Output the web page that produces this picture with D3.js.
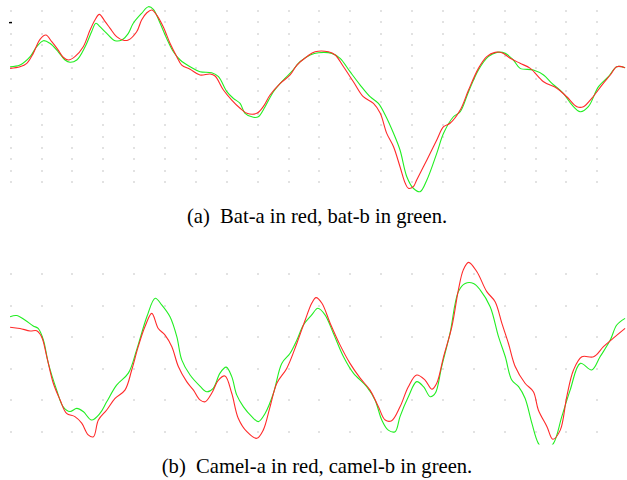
<!DOCTYPE html>
<html>
<head>
<meta charset="utf-8">
<script src="https://cdn.jsdelivr.net/npm/d3@7"></script>
<style>
  html, body { margin: 0; padding: 0; background: #fff; }
  svg { display: block; }
  text { white-space: pre; }
</style>
</head>
<body>
<svg id="chart" width="627" height="480"></svg>
<script>
// ---------- data (frame index, amplitude) ----------
const gridCols = d3.range(0, 200, 10);          // frame ticks 0..190
const topRows = d3.range(0, 16);                  // amplitude ticks 0..15
const bottomRows = d3.range(0, 6);                // amplitude ticks 0..5

const captionA = "(a)  Bat-a in red, bat-b in green.";
const captionB = "(b)  Camel-a in red, camel-b in green.";

const batA = [
  [-0.2,9.96],[3.0,10.10],[5.2,10.40],[7.3,11.27],[9.5,12.50],[11.4,12.87],[13.3,12.29],[15.4,11.56],
  [17.0,10.93],[18.7,10.69],[20.8,10.98],[23.5,11.85],[25.7,13.31],[27.3,14.19],[28.7,14.68],[30.6,14.04],
  [32.2,13.46],[34.3,12.73],[36.5,12.41],[38.1,12.44],[40.8,13.16],[42.4,14.19],[44.1,14.82],[45.7,15.06],
  [47.3,14.62],[49.4,13.60],[51.6,12.15],[53.8,10.98],[55.4,10.25],[58.1,9.88],[61.3,9.38],[64.6,9.47],
  [66.2,9.29],[68.9,8.07],[71.6,7.19],[74.3,6.47],[76.5,6.03],[79.7,6.03],[81.8,6.61],[84.0,7.63],
  [87.3,8.65],[90.5,9.38],[92.7,10.25],[95.9,10.98],[98.6,11.41],[102.9,11.41],[105.1,11.13],[107.8,10.10],
  [111.0,8.79],[114.2,7.48],[117.5,6.90],[119.7,6.03],[121.8,4.28],[124.0,3.11],[126.1,1.36],[127.8,-0.09],
  [128.8,-0.52],[130.4,-0.38],[131.5,0.20],[134.8,1.95],[138.0,3.70],[140.2,4.86],[142.3,5.16],[145.6,6.32],
  [148.3,8.07],[151.5,9.96],[154.2,10.98],[156.9,11.36],[159.1,11.33],[161.8,10.84],[165.0,10.40],[168.3,9.96],
  [172.6,8.79],[176.9,8.22],[180.1,7.48],[183.4,6.61],[185.5,6.61],[188.2,7.34],[191.5,8.50],[194.2,9.38],
  [196.3,10.10],[199.0,10.02]
];
const batB = [
  [-0.2,10.10],[3.0,10.25],[6.3,10.98],[8.4,11.85],[10.6,12.38],[12.7,12.15],[15.4,11.41],[17.6,10.69],
  [19.2,10.49],[21.4,10.69],[24.1,11.85],[26.2,13.16],[27.6,13.90],[28.9,13.60],[31.1,13.02],[33.8,12.38],
  [36.0,12.44],[38.1,13.02],[39.7,13.90],[42.4,14.77],[44.6,15.35],[46.2,15.12],[48.4,13.90],[50.5,12.59],
  [52.7,11.41],[54.9,10.69],[58.1,10.10],[61.3,9.67],[65.1,9.58],[67.3,9.23],[70.0,7.92],[72.1,7.34],
  [74.3,6.90],[75.9,6.03],[78.6,5.68],[80.2,5.73],[82.4,6.61],[85.1,7.92],[88.3,8.94],[91.0,9.67],
  [93.7,10.54],[97.0,11.13],[99.7,11.33],[104.0,11.27],[106.7,10.84],[109.9,9.67],[113.2,8.50],[116.4,7.48],
  [119.1,6.90],[121.3,5.88],[124.0,4.28],[126.1,2.82],[128.3,0.49],[130.4,-0.52],[132.6,-0.82],[134.8,0.20],
  [138.0,2.53],[140.2,4.28],[143.4,5.73],[145.6,6.17],[148.3,7.92],[151.5,9.82],[154.7,10.98],[157.5,11.36],
  [160.2,11.27],[162.8,10.69],[165.0,9.96],[169.3,9.82],[172.6,9.38],[175.3,8.65],[179.0,7.78],[181.8,6.76],
  [184.5,6.17],[187.1,6.61],[190.4,8.36],[193.6,9.23],[196.3,10.10],[199.0,10.02]
];
const camelA = [
  [-0.2,3.32],[3.0,3.28],[6.3,3.20],[8.4,3.21],[10.0,3.02],[11.7,2.38],[13.8,1.54],[16.0,1.01],
  [18.1,0.58],[20.8,0.48],[23.0,0.27],[25.1,-0.10],[26.8,-0.16],[28.4,0.37],[31.1,0.69],[33.8,1.06],
  [37.0,1.32],[39.2,1.96],[41.3,2.70],[43.5,3.34],[45.7,3.76],[47.8,3.28],[50.0,3.07],[52.2,2.70],
  [54.3,2.07],[57.0,1.59],[59.2,1.32],[61.3,1.01],[63.0,0.95],[65.1,1.22],[67.3,1.64],[69.4,1.77],
  [71.6,1.22],[73.7,0.43],[76.5,0.00],[79.7,-0.21],[81.8,0.05],[84.0,0.79],[86.2,1.54],[89.4,2.01],
  [92.7,2.81],[95.4,3.55],[97.5,4.08],[98.9,4.26],[100.8,4.08],[103.5,3.44],[106.7,2.75],[109.9,2.17],
  [113.2,1.70],[116.4,1.32],[119.1,0.79],[121.3,0.37],[123.4,0.35],[126.1,0.79],[128.8,1.43],[131.5,1.80],
  [134.2,1.64],[136.4,1.35],[138.0,1.54],[140.2,2.38],[142.9,3.34],[145.0,4.50],[146.6,5.14],[148.3,5.38],
  [151.0,5.08],[154.2,4.45],[156.9,4.13],[159.1,3.44],[161.2,2.81],[163.4,2.07],[166.6,1.54],[169.3,1.27],
  [170.9,0.69],[173.7,0.16],[175.6,-0.24],[178.0,0.05],[180.1,1.11],[182.3,1.96],[185.0,2.38],[188.8,2.38],
  [192.0,2.70],[195.2,2.97],[199.0,3.28]
];
const camelB = [
  [-0.2,3.65],[1.9,3.69],[4.6,3.55],[7.3,3.36],[8.9,3.28],[10.6,2.91],[12.2,2.17],[14.9,1.32],
  [17.0,0.79],[19.2,0.64],[21.4,0.74],[23.5,0.64],[26.2,0.37],[28.9,0.58],[31.1,0.95],[34.3,1.48],
  [38.1,1.86],[40.8,2.60],[44.1,3.65],[46.8,4.24],[48.9,4.03],[51.6,3.65],[53.8,3.02],[55.4,2.28],
  [58.1,1.80],[61.3,1.45],[63.5,1.27],[65.6,1.38],[67.8,1.86],[69.8,2.05],[71.6,1.75],[73.2,1.17],
  [75.4,0.79],[78.1,0.48],[80.2,0.32],[82.4,0.58],[85.1,1.22],[87.8,2.17],[90.5,2.49],[92.7,2.91],
  [94.8,3.39],[97.5,3.71],[99.5,3.92],[101.8,3.71],[104.5,3.13],[107.8,2.38],[111.0,1.86],[115.3,1.43],
  [118.0,1.01],[120.2,0.37],[122.3,0.05],[124.5,0.00],[126.1,0.48],[128.8,1.11],[131.5,1.59],[133.7,1.43],
  [135.9,1.11],[137.5,1.22],[139.6,2.07],[142.3,3.13],[145.0,4.45],[147.2,4.71],[149.9,4.71],[152.1,4.50],
  [155.3,3.97],[158.0,3.02],[160.2,2.38],[162.3,1.64],[164.5,1.43],[166.6,1.06],[168.8,0.27],[170.9,-0.37],
  [173.1,-0.60],[175.8,-0.37],[178.5,0.48],[181.2,1.32],[184.5,2.17],[188.2,1.96],[190.9,2.38],[194.2,2.91],
  [196.3,3.39],[199.0,3.60]
];

// ---------- drawing ----------
const svg = d3.select("#chart");

const x = d3.scaleLinear().domain([0, 190]).range([10.7, 597.3]);
const yTop = d3.scaleLinear().domain([0, 15]).range([182.3, 10.7]);
const yBot = d3.scaleLinear().domain([0, 5]).range([431.7, 274.3]);

function dotGrid(g, yScale, rows) {
  const pts = [];
  gridCols.forEach(c => rows.forEach(r => pts.push([c, r])));
  g.selectAll("rect.dot").data(pts).join("rect")
    .attr("class", "dot")
    .attr("x", d => Math.round(x(d[0])) - 0.5)
    .attr("y", d => Math.round(yScale(d[1])) - 0.5)
    .attr("width", 1).attr("height", 1)
    .attr("fill", "#8c8c8c");
}

function drawPanel(yScale, rows, seriesRed, seriesGreen, clipId, clipBottom) {
  const g = svg.append("g");
  dotGrid(g, yScale, rows);
  svg.append("clipPath").attr("id", clipId)
    .append("rect").attr("x", 0).attr("y", yScale.range()[1] - 20)
    .attr("width", 627).attr("height", clipBottom - (yScale.range()[1] - 20));
  const line = d3.line()
    .x(d => x(d[0])).y(d => yScale(d[1]))
    .curve(d3.curveCatmullRom.alpha(0.5));
  const lg = svg.append("g").attr("clip-path", `url(#${clipId})`);
  lg.append("path").datum(seriesGreen).attr("d", line)
    .attr("fill", "none").attr("stroke", "#22ee22").attr("stroke-width", 1.1);
  lg.append("path").datum(seriesRed).attr("d", line)
    .attr("fill", "none").attr("stroke", "#ff2a2a").attr("stroke-width", 1.1);
  return g;
}

const gTop = drawPanel(yTop, topRows, batA, batB, "clipTop", 200);
drawPanel(yBot, bottomRows, camelA, camelB, "clipBot", 444.5);

// small tick mark at the upper-left of panel (a)
gTop.append("line")
  .attr("x1", x(0) - 1.7).attr("x2", x(0) + 1.3)
  .attr("y1", yTop(14) + 0.5).attr("y2", yTop(14) + 0.5)
  .attr("stroke", "#000").attr("stroke-width", 1.4);

// captions
const captionX = 317;
svg.append("text").attr("x", captionX).attr("y", 223)
  .attr("text-anchor", "middle")
  .attr("font-family", "'Liberation Serif', 'Times New Roman', serif")
  .attr("font-size", 20.6).attr("fill", "#000")
  .text(captionA);
svg.append("text").attr("x", captionX).attr("y", 473)
  .attr("text-anchor", "middle")
  .attr("font-family", "'Liberation Serif', 'Times New Roman', serif")
  .attr("font-size", 20.6).attr("fill", "#000")
  .text(captionB);
</script>
</body>
</html>
